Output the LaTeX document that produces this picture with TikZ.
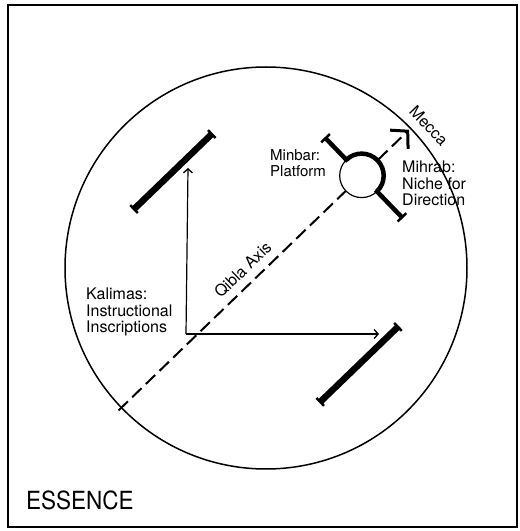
\documentclass[tikz,border=0pt]{standalone}
\usepackage{fontspec}
\setmainfont{TeX Gyre Heros}
\usetikzlibrary{arrows.meta,calc}
\begin{document}
\begin{tikzpicture}[x=1pt,y=1pt,
  lbl/.style={font=\fontsize{16}{16.5}\selectfont, align=left, inner sep=0pt},
  wall/.style={line width=6.5pt},
  endbar/.style={line width=2.5pt},
  thinline/.style={line width=1.2pt},
  barb/.style={-{Straight Barb[length=4pt,width=9pt,line width=1.3pt]}}]
\useasboundingbox (0,0) rectangle (520,531);
\draw[line width=1.8pt] (8,4) rectangle (517,526);
\coordinate (C) at (266,263);
\draw[line width=1.5pt] (C) circle (201);
% Qibla axis
\coordinate (A0) at ($(C)+(224:205)$);
\coordinate (Mecca) at ($(C)+(44:199)$);
\draw[line width=2pt, dash pattern=on 13pt off 6pt,
  -{Straight Barb[length=12pt,width=26pt,line width=3pt]}] (A0) -- (Mecca);
% Minbar / Mihrab
\coordinate (M) at ($(C)+(44:133)$);
\draw[thinline, fill=white] (M) circle (22);
\draw[line width=4.5pt] ($(M)+(134:22)$) arc[start angle=134, end angle=-46, radius=22];
\coordinate (S1) at ($(M)+(134:52)$);
\coordinate (S2) at ($(M)+(-46:58)$);
\draw[line width=4.5pt] ($(M)+(134:20)$) -- (S1);
\draw[line width=4.5pt] ($(M)+(-46:20)$) -- (S2);
\draw[endbar] ($(S1)+(44:6)$) -- ($(S1)+(224:6)$);
\draw[endbar] ($(S2)+(44:6)$) -- ($(S2)+(224:6)$);
% walls
\coordinate (W1) at ($(C)+(134:134)$);
\coordinate (W2) at ($(C)+(-46:134)$);
\foreach \w in {W1,W2}{
  \coordinate (Ea) at ($(\w)+(224:54)$);
  \coordinate (Eb) at ($(\w)+(44:54)$);
  \draw[wall] (Ea) -- (Eb);
  \draw[endbar] ($(Ea)+(134:5.5)$) -- ($(Ea)+(-46:5.5)$);
  \draw[endbar] ($(Eb)+(134:5.5)$) -- ($(Eb)+(-46:5.5)$);
}
% Kalimas arrows
\coordinate (K) at (186,197);
\coordinate (Kup) at (188,363);
\coordinate (Kright) at (379,197);
\draw[thinline, barb] (K) -- (Kup);
\draw[thinline, barb] (K) -- (Kright);
% labels
\node[lbl, anchor=north west] (kal) at (86,243) {Kalimas:\\Instructional\\Inscriptions};
\node[lbl, font=\fontsize{15}{16.5}\selectfont, anchor=north west] (minbar) at (270,382) {Minbar:\\Platform};
\node[lbl, anchor=north west] (mihrab) at (402,370) {Mihrab:\\Niche for\\Direction};
\node[lbl, rotate=-46, anchor=south] (mecca) at ($(C)+(41:210)$) {Mecca};
\node[lbl, rotate=44, anchor=south] (qibla) at ($(C)+(224:18)+(134:8)$) {Qibla Axis};
\node[font=\fontsize{25}{25}\selectfont, inner sep=0pt, anchor=south west, xscale=0.9] (ess) at (26,21) {ESSENCE};
\end{tikzpicture}
\end{document}
